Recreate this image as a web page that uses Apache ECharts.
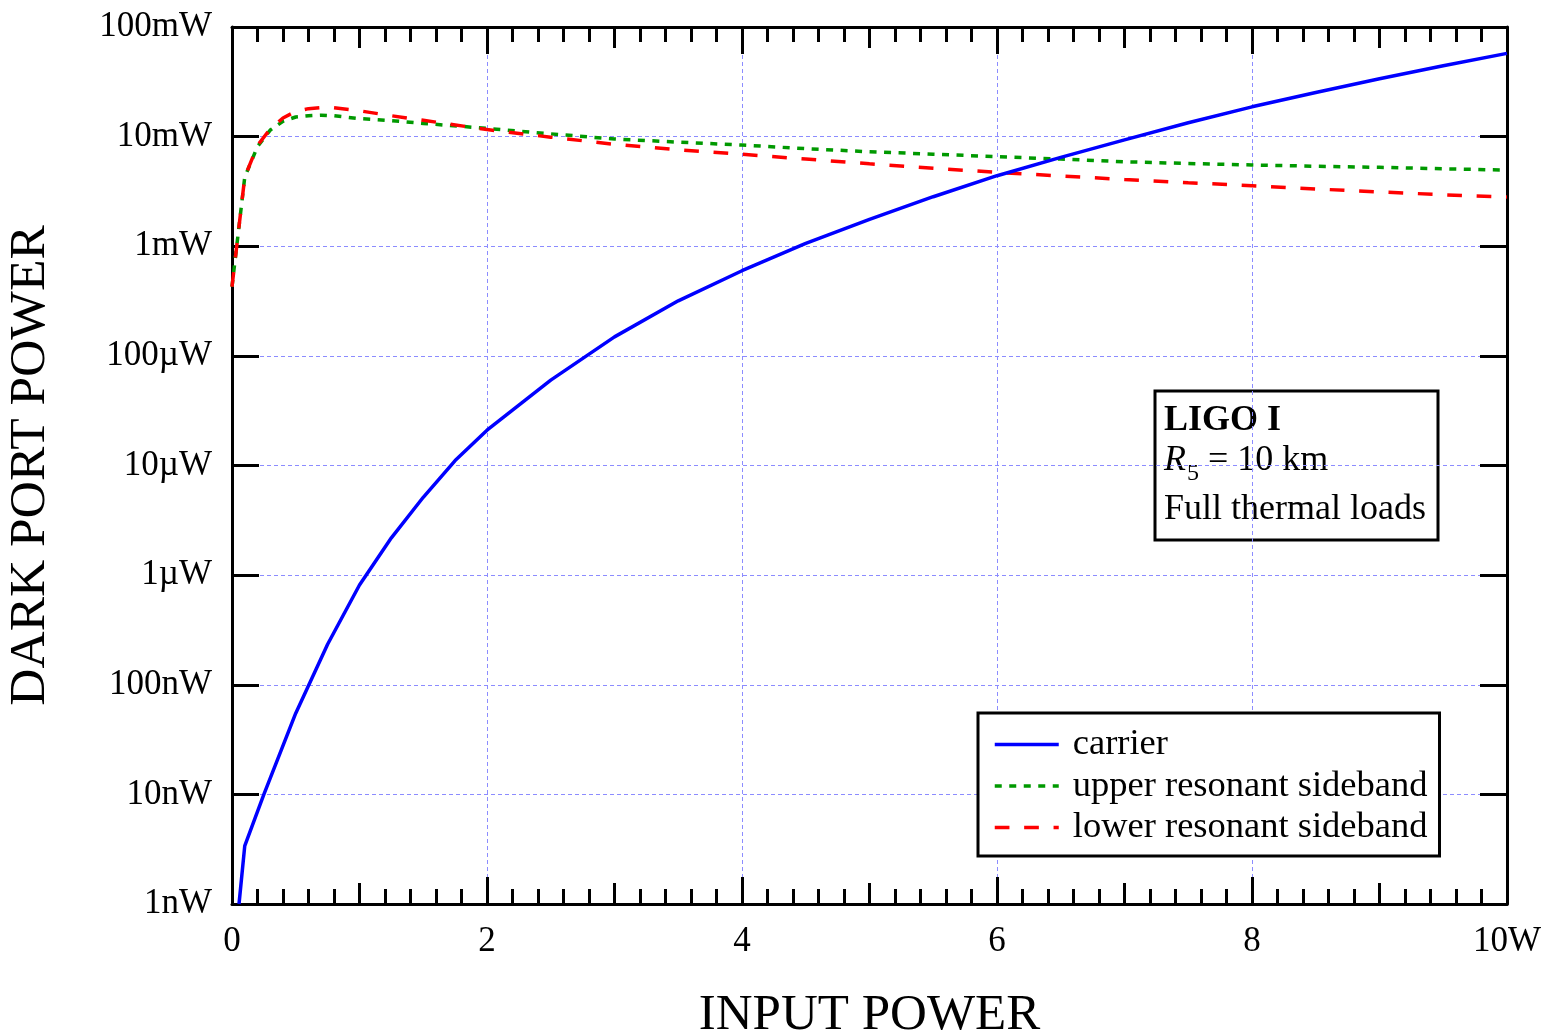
<!DOCTYPE html>
<html>
<head>
<meta charset="utf-8">
<script src="https://cdn.jsdelivr.net/npm/echarts@6/dist/echarts.min.js"></script>
<style>
  html, body { margin: 0; padding: 0; background: #fff; }
  #chart { width: 1547px; height: 1032px; }
</style>
</head>
<body>
<div id="chart"></div>
<script>
// ---- data (input power in W, dark port power in W) ----
const carrierX = [0.055, 0.1, 0.25, 0.5, 0.75, 1.0, 1.25, 1.5, 1.75, 2.0, 2.5, 3.0, 3.5, 4.0, 4.5, 5.0, 5.5, 6.0, 6.5, 7.0, 7.5, 8.0, 8.5, 9.0, 9.5, 10.0];
const carrierW = [1.0e-9, 3.39e-9, 1.0e-8, 5.50e-8, 2.34e-7, 8.13e-7, 2.19e-6, 5.13e-6, 1.109e-5, 2.10e-5, 6.01e-5, 1.49e-4, 3.18e-4, 5.98e-4, 1.06e-3, 1.76e-3, 2.83e-3, 4.40e-3, 6.47e-3, 9.35e-3, 1.337e-2, 1.87e-2, 2.53e-2, 3.37e-2, 4.43e-2, 5.75e-2];

const sidebandX = [0, 0.1, 0.2, 0.3, 0.4, 0.5, 0.6, 0.7, 0.8, 1.0, 1.25, 1.5, 2.0, 2.5, 3.0, 3.5, 4.0, 4.5, 5.0, 5.5, 6.0, 6.5, 7.0, 7.5, 8.0, 8.5, 9.0, 9.5, 10.0];
const upperW = [4.27e-4, 4.27e-3, 8.13e-3, 1.148e-2, 1.38e-2, 1.51e-2, 1.55e-2, 1.57e-2, 1.55e-2, 1.46e-2, 1.40e-2, 1.32e-2, 1.19e-2, 1.06e-2, 9.51e-3, 8.91e-3, 8.38e-3, 7.76e-3, 7.28e-3, 6.92e-3, 6.56e-3, 6.24e-3, 5.90e-3, 5.69e-3, 5.51e-3, 5.37e-3, 5.25e-3, 5.09e-3, 4.95e-3];
const lowerW = [4.27e-4, 4.27e-3, 8.32e-3, 1.175e-2, 1.48e-2, 1.70e-2, 1.80e-2, 1.84e-2, 1.83e-2, 1.72e-2, 1.55e-2, 1.41e-2, 1.16e-2, 9.89e-3, 8.51e-3, 7.59e-3, 6.90e-3, 6.24e-3, 5.65e-3, 5.15e-3, 4.72e-3, 4.37e-3, 4.07e-3, 3.80e-3, 3.56e-3, 3.33e-3, 3.13e-3, 2.95e-3, 2.81e-3];

const seriesNames = ['carrier', 'upper resonant sideband', 'lower resonant sideband'];
const xTickLabels = ['0', '2', '4', '6', '8', '10W'];
const yTickLabels = ['1nW', '10nW', '100nW', '1µW', '10µW', '100µW', '1mW', '10mW', '100mW'];
const annotationLines = ['LIGO I', 'R', '5', '= 10 km', 'Full thermal loads'];

// ---- chart ----
const FONT = 'Liberation Serif';
const pair = (xs, ys) => xs.map((x, i) => [x, ys[i]]);
const chart = echarts.init(document.getElementById('chart'), null, { renderer: 'canvas' });

const gridDash = { color: '#8c8cff', width: 1, type: [4, 3] };
const frameLine = { show: true, onZero: false, lineStyle: { color: '#000', width: 3 } };

function xAxisMajor(pos, labels) {
  return {
    type: 'value', position: pos, min: 0, max: 10, interval: 2,
    axisLine: frameLine,
    axisTick: { show: true, inside: true, length: 27, lineStyle: { color: '#000', width: 3 } },
    axisLabel: labels ? {
      show: true, margin: 20, color: '#000', fontFamily: FONT, fontSize: 35,
      formatter: v => xTickLabels[Math.round(v / 2)]
    } : { show: false },
    splitLine: labels ? { show: true, lineStyle: gridDash } : { show: false },
    name: labels ? 'INPUT POWER' : '',
    nameLocation: 'middle', nameGap: 86,
    nameTextStyle: { fontFamily: FONT, fontSize: 51, color: '#000' }
  };
}
function xAxisMinor(pos) {
  return {
    type: 'value', position: pos, min: 0, max: 10, interval: 1,
    axisLine: { show: false },
    axisTick: { show: true, inside: true, length: 21, lineStyle: { color: '#000', width: 3 } },
    minorTick: { show: true, splitNumber: 5, length: 15, lineStyle: { color: '#000', width: 3 } },
    axisLabel: { show: false }, splitLine: { show: false }
  };
}
function yAxisLog(pos, labels) {
  return {
    type: 'log', logBase: 10, position: pos, min: 1e-9, max: 0.1, splitNumber: 8,
    axisLine: frameLine,
    axisTick: { show: true, inside: true, length: 27, lineStyle: { color: '#000', width: 3 } },
    minorTick: { show: false },
    axisLabel: labels ? {
      show: true, margin: 20, color: '#000', fontFamily: FONT, fontSize: 35,
      showMinLabel: true, showMaxLabel: true,
      formatter: v => yTickLabels[Math.round(Math.log10(v)) + 9]
    } : { show: false },
    splitLine: labels ? { show: true, lineStyle: gridDash } : { show: false },
    name: labels ? 'DARK PORT POWER' : '',
    nameLocation: 'middle', nameGap: 176, nameRotate: 90,
    nameTextStyle: { fontFamily: FONT, fontSize: 51.5, color: '#000' }
  };
}

const option = {
  animation: false,
  backgroundColor: '#fff',
  grid: { left: 232, right: 40, top: 27, bottom: 128, containLabel: false, outerBoundsMode: 'none' },
  xAxis: [xAxisMajor('bottom', true), xAxisMinor('bottom'), xAxisMajor('top', false), xAxisMinor('top')],
  yAxis: [yAxisLog('left', true), yAxisLog('right', false)],
  legend: {
    data: seriesNames,
    orient: 'vertical',
    left: 978, top: 713,
    padding: [13, 12, 10, 15],
    itemWidth: 64, itemHeight: 20, itemGap: 4.5,
    backgroundColor: '#fff',
    borderColor: '#000', borderWidth: 3, borderRadius: 0,
    itemStyle: { opacity: 0 },
    lineStyle: { width: 3.5 },
    textStyle: { fontFamily: FONT, fontSize: 36.5, color: '#000', lineHeight: 36, padding: [0, 0, 0, 9] }
  },
  series: [
    {
      name: seriesNames[0], type: 'line', xAxisIndex: 0, yAxisIndex: 0,
      data: pair(carrierX, carrierW), symbol: 'none', smooth: false,
      lineStyle: { color: '#0000ff', width: 3.5 }, itemStyle: { color: '#0000ff' }, z: 5
    },
    {
      name: seriesNames[1], type: 'line', xAxisIndex: 0, yAxisIndex: 0,
      data: pair(sidebandX, upperW), symbol: 'none', smooth: false,
      lineStyle: { color: '#009900', width: 3.5, type: [7, 7.5], cap: 'butt' }, itemStyle: { color: '#009900' }, z: 4
    },
    {
      name: seriesNames[2], type: 'line', xAxisIndex: 0, yAxisIndex: 0,
      data: pair(sidebandX, lowerW), symbol: 'none', smooth: false,
      lineStyle: { color: '#ff0000', width: 3.5, type: [14.7, 14.7], cap: 'butt' }, itemStyle: { color: '#ff0000' }, z: 4
    }
  ],
  graphic: [
    {
      type: 'group', z: 100,
      children: [
        { type: 'rect', shape: { x: 1155, y: 391, width: 283, height: 149 },
          style: { fill: '#fff', stroke: '#000', lineWidth: 3 } },
        { type: 'text', x: 1164, y: 421,
          style: { text: annotationLines[0], font: 'bold 36px "Liberation Serif"', fill: '#000', verticalAlign: 'middle' } },
        { type: 'text', x: 1164, y: 461,
          style: { text: annotationLines[1], font: 'italic 36px "Liberation Serif"', fill: '#000', verticalAlign: 'middle' } },
        { type: 'text', x: 1187, y: 474,
          style: { text: annotationLines[2], font: '24px "Liberation Serif"', fill: '#000', verticalAlign: 'middle' } },
        { type: 'text', x: 1208, y: 461,
          style: { text: annotationLines[3], font: '36px "Liberation Serif"', fill: '#000', verticalAlign: 'middle' } },
        { type: 'text', x: 1164, y: 510,
          style: { text: annotationLines[4], font: '36px "Liberation Serif"', fill: '#000', verticalAlign: 'middle' } }
      ]
    }
  ]
};
chart.setOption(option);
</script>
</body>
</html>
